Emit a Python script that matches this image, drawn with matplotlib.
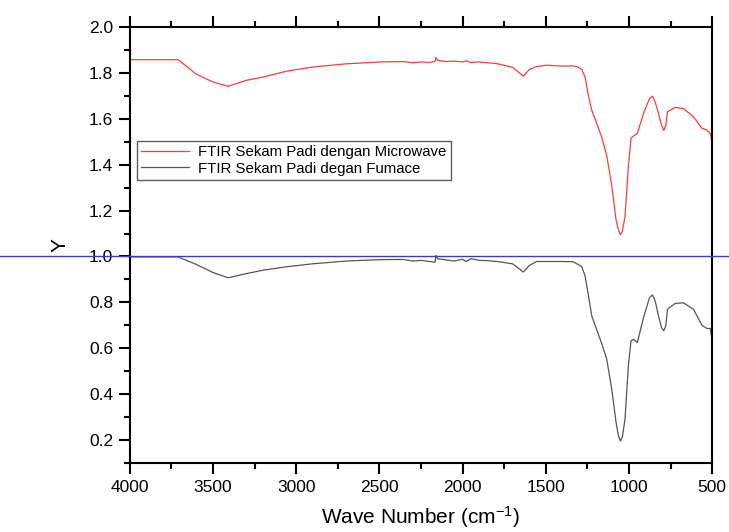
import numpy as np
import matplotlib
matplotlib.use("Agg")
import matplotlib.pyplot as plt
from matplotlib.ticker import MultipleLocator
from matplotlib.transforms import blended_transform_factory

plt.rcParams['font.family'] = ['Liberation Sans', 'DejaVu Sans']
plt.rcParams['mathtext.fontset'] = 'custom'
plt.rcParams['mathtext.rm'] = 'Liberation Sans'
plt.rcParams['mathtext.it'] = 'Liberation Sans'
plt.rcParams['mathtext.bf'] = 'Liberation Sans:bold'

wavenumber = [4000, 3710, 3600, 3500, 3409, 3300, 3200, 3058, 2900, 2700, 2500, 2357, 2300,
              2250, 2200, 2166, 2160, 2150, 2100, 2050, 2000, 1980, 1950, 1900, 1855, 1793,
              1700, 1635, 1600, 1555, 1495, 1400, 1336, 1306, 1284, 1264, 1244, 1224, 1194,
              1164, 1134, 1104, 1078, 1064, 1052, 1040, 1024, 1004, 988, 973, 950, 913, 877,
              859, 843, 823, 805, 791, 779, 769, 723, 673, 613, 562, 532, 512, 500]

microwave = [1.858, 1.858, 1.795, 1.761, 1.742, 1.768, 1.782, 1.808, 1.826, 1.840, 1.848, 1.850,
             1.845, 1.848, 1.846, 1.850, 1.868, 1.855, 1.850, 1.852, 1.848, 1.853, 1.846, 1.848,
             1.845, 1.841, 1.825, 1.786, 1.815, 1.828, 1.834, 1.830, 1.831, 1.826, 1.815, 1.783,
             1.700, 1.638, 1.580, 1.520, 1.440, 1.310, 1.160, 1.117, 1.095, 1.110, 1.175, 1.392,
             1.515, 1.525, 1.537, 1.624, 1.689, 1.699, 1.674, 1.624, 1.573, 1.549, 1.573, 1.631,
             1.650, 1.645, 1.609, 1.559, 1.551, 1.537, 1.493]

furnace = [0.998, 0.998, 0.965, 0.930, 0.907, 0.925, 0.940, 0.955, 0.968, 0.980, 0.986, 0.987,
           0.980, 0.983, 0.978, 0.975, 1.005, 0.990, 0.985, 0.980, 0.988, 0.978, 0.990, 0.983,
           0.982, 0.978, 0.968, 0.932, 0.960, 0.978, 0.978, 0.978, 0.977, 0.965, 0.955, 0.915,
           0.830, 0.741, 0.680, 0.620, 0.552, 0.422, 0.277, 0.219, 0.195, 0.212, 0.291, 0.523,
           0.632, 0.639, 0.625, 0.733, 0.820, 0.832, 0.806, 0.741, 0.690, 0.676, 0.697, 0.770,
           0.795, 0.798, 0.770, 0.700, 0.686, 0.686, 0.632]

labels = ["FTIR Sekam Padi dengan Microwave", "FTIR Sekam Padi degan Fumace"]
xlabel = "Wave Number (cm$^{-1}$)"
ylabel = "Y"
ref_level = 1.0

fig = plt.figure(figsize=(7.29, 5.32), dpi=100)
ax = fig.add_axes([0.178, 0.130, 0.799, 0.819])

ax.plot(wavenumber, microwave, color='#ff3b3b', lw=0.9, label=labels[0])
ax.plot(wavenumber, furnace, color='#555555', lw=0.9, label=labels[1])

ax.set_xlim(4000, 500)
ax.set_ylim(0.1, 2.0)
ax.xaxis.set_major_locator(MultipleLocator(500))
ax.xaxis.set_minor_locator(MultipleLocator(250))
ax.yaxis.set_major_locator(MultipleLocator(0.2))
ax.yaxis.set_minor_locator(MultipleLocator(0.1))
ax.yaxis.set_major_formatter(matplotlib.ticker.FormatStrFormatter('%.1f'))

for s in ax.spines.values():
    s.set_linewidth(1.5)
ax.tick_params(axis='both', which='major', direction='out', length=8, width=1.5,
               labelsize=12.5, pad=4)
ax.tick_params(axis='both', which='minor', direction='out', length=4, width=1.5)
ax.tick_params(axis='x', top=True, which='both')
ax.tick_params(axis='x', labeltop=False)

ax.set_xlabel(xlabel, fontsize=15, labelpad=7)
ax.set_ylabel(ylabel, fontsize=15, labelpad=14)

# horizontal reference line spanning whole figure width
tr = blended_transform_factory(fig.transFigure, ax.transData)
ax.plot([0, 1], [ref_level, ref_level], transform=tr, color='#3a3acc', lw=1.0,
        clip_on=False, zorder=5)

leg = ax.legend(loc='upper left', bbox_to_anchor=(0.012, 0.739), fontsize=10.8,
                frameon=True, fancybox=False, edgecolor='#333333', borderpad=0.3,
                handlelength=3.2, handletextpad=0.6, labelspacing=0.15,
                borderaxespad=0)
leg.get_frame().set_linewidth(1.0)

fig.savefig("out.png", dpi=100)
